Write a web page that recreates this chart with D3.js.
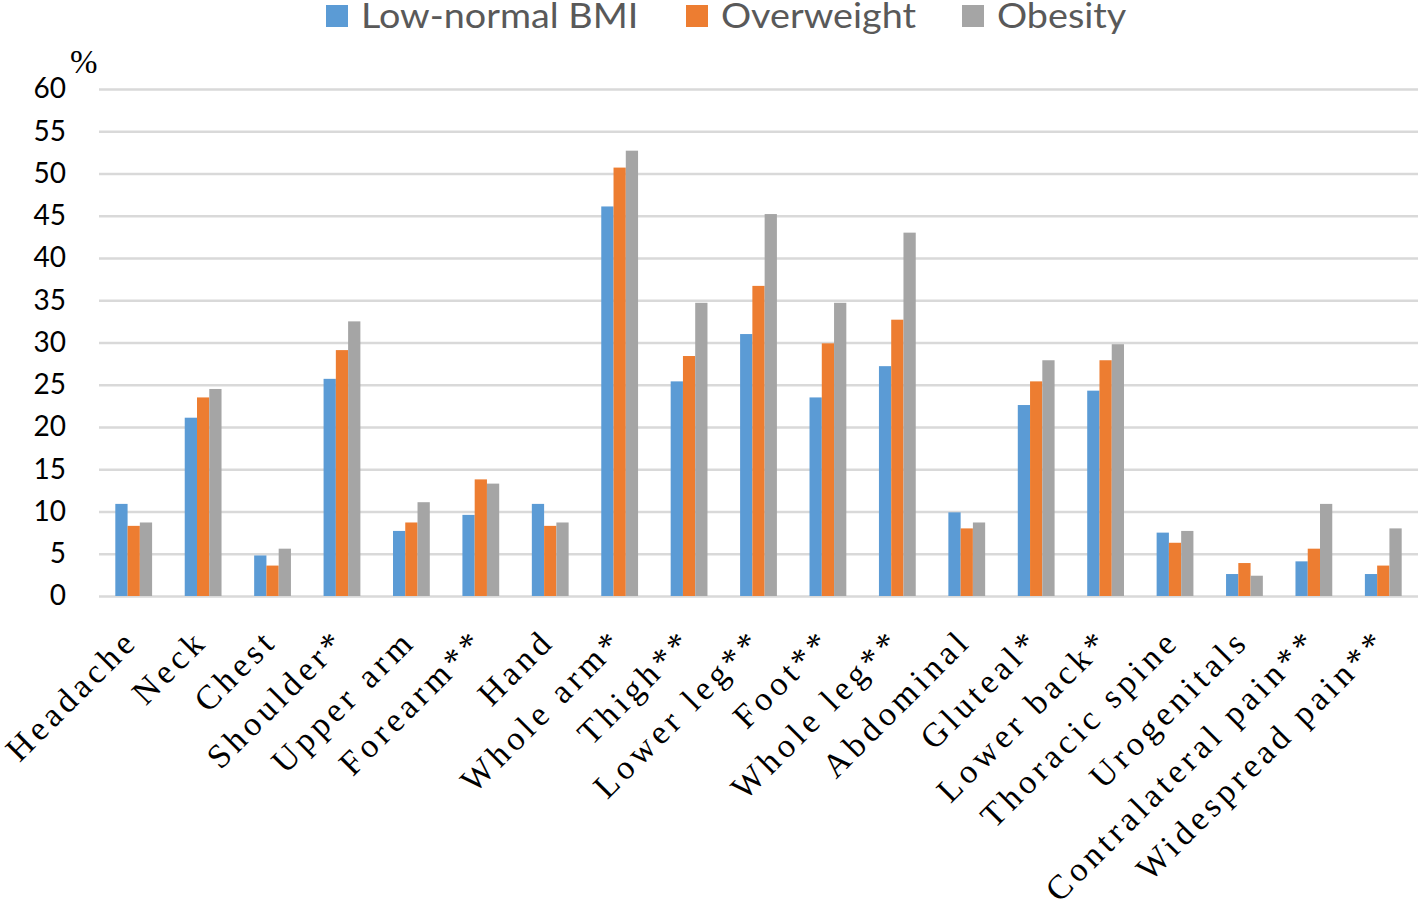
<!DOCTYPE html>
<html>
<head>
<meta charset="utf-8">
<script src="https://cdn.jsdelivr.net/npm/d3@7"></script>
<style>
  body { margin: 0; background: #fff; }
  svg { display: block; }
</style>
</head>
<body>
<svg id="chart" width="1418" height="903"></svg>
<script>
// chart data
let regions = ["Headache", "Neck", "Chest", "Shoulder*", "Upper arm", "Forearm**", "Hand",
    "Whole arm*", "Thigh**", "Lower leg**", "Foot**", "Whole leg**", "Abdominal", "Gluteal*",
    "Lower back*", "Thoracic spine", "Urogenitals", "Contralateral pain**", "Widespread pain**"];
let seriesNames = ["Low-normal BMI", "Overweight", "Obesity"];
let lowNormal = [10.9, 21.1, 4.8, 25.7, 7.7, 9.6, 10.9, 46.1, 25.4, 31.0, 23.5, 27.2, 9.9, 22.6, 24.3, 7.5, 2.6, 4.1, 2.6];
let overweight = [8.3, 23.5, 3.6, 29.1, 8.7, 13.8, 8.3, 50.7, 28.4, 36.7, 29.9, 32.7, 8.0, 25.4, 27.9, 6.3, 3.9, 5.6, 3.6];
let obesity = [8.7, 24.5, 5.6, 32.5, 11.1, 13.3, 8.7, 52.7, 34.7, 45.2, 34.7, 43.0, 8.7, 27.9, 29.8, 7.7, 2.4, 10.9, 8.0];
let yTicks = [0, 5, 10, 15, 20, 25, 30, 35, 40, 45, 50, 55, 60];

let colors = ["#5b9bd5", "#ed7d31", "#a5a5a5"];

let canvas = d3.select("#chart");

let plotLeft = 99, plotRight = 1418;
let plotTop = 89, plotBottom = 596;

let x = d3.scaleBand()
    .domain(regions)
    .range([plotLeft, plotRight])
    .paddingInner(0.47)
    .paddingOuter(0.235);

let xInner = d3.scaleBand()
    .domain(seriesNames)
    .range([0, x.bandwidth()]);

let y = d3.scaleLinear()
    .domain([0, 60])
    .range([plotBottom, plotTop]);

// gridlines + tick labels
let yAxis = canvas.append("g")
    .attr("transform", "translate(" + plotLeft + ",0)")
    .call(d3.axisLeft(y)
        .tickValues(yTicks)
        .tickSize(-(plotRight - plotLeft))
        .tickPadding(33));
yAxis.select(".domain").remove();
yAxis.selectAll(".tick line")
    .attr("stroke", "#d9d9d9")
    .attr("stroke-width", 2.5);
yAxis.selectAll(".tick text")
    .attr("fill", "#000")
    .style("font-family", "Lato, sans-serif")
    .style("font-size", "28px");

canvas.append("text")
    .attr("x", 70)
    .attr("y", 73)
    .style("font-family", "'Liberation Serif', serif")
    .style("font-size", "33px")
    .text("%");

// bars
let rows = regions.map((r, i) => ({region: r, values: [lowNormal[i], overweight[i], obesity[i]]}));

let groups = canvas.selectAll("g.group")
    .data(rows)
    .enter()
    .append("g")
    .attr("class", "group")
    .attr("transform", d => "translate(" + x(d.region) + ",0)");

groups.selectAll("rect")
    .data(d => d.values.map((v, k) => ({name: seriesNames[k], value: v, k: k})))
    .enter()
    .append("rect")
    .attr("x", d => xInner(d.name))
    .attr("width", xInner.bandwidth())
    .attr("y", d => y(d.value))
    .attr("height", d => plotBottom - y(d.value))
    .style("fill", d => colors[d.k]);

// rotated category labels
canvas.append("g")
    .selectAll("text")
    .data(regions)
    .enter()
    .append("text")
    .attr("transform", d => "translate(" + (x(d) + x.bandwidth() / 2 + 6) + "," + 643 + ") rotate(-45)")
    .attr("text-anchor", "end")
    .style("font-family", "'Liberation Serif', serif")
    .style("font-size", "34px")
    .style("letter-spacing", "4.5px")
    .text(d => d);

// legend
let legendX = [326, 686, 962];
let legend = canvas.append("g")
    .selectAll("g")
    .data(seriesNames)
    .enter()
    .append("g")
    .attr("transform", (d, i) => "translate(" + legendX[i] + ",0)");
legend.append("rect")
    .attr("x", 0)
    .attr("y", 5)
    .attr("width", 22)
    .attr("height", 22)
    .style("fill", (d, i) => colors[i]);
legend.append("text")
    .attr("transform", "translate(35,28) scale(1.11,1)")
    .style("font-family", "Lato, sans-serif")
    .style("font-size", "34px")
    .attr("fill", "#595959")
    .text(d => d);
</script>
</body>
</html>
